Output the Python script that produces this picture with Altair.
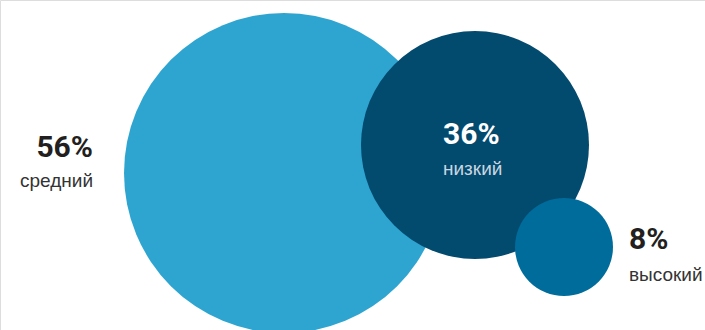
import altair as alt
import pandas as pd

# Data
categories = ["средний", "низкий", "высокий"]
shares = [56, 36, 8]
pct_labels = ["56%", "36%", "8%"]

# Layout of the bubbles (layout units = pixels of the 705x330 canvas)
center_x = [284, 475, 564]
center_y = [173, 145, 247]
label_x = [93, 443, 629]
pct_y = [157, 144, 249]
name_y = [187, 175, 281]

palette = ["#2EA5D0", "#024A6E", "#006C9B"]
pct_colors = ["#231F20", "#FFFFFF", "#231F20"]
name_colors = ["#333333", "#C9D6E0", "#333333"]

df = pd.DataFrame({
    "category": categories,
    "share": shares,
    "pct": pct_labels,
    "cx": center_x,
    "cy": center_y,
    "lx": label_x,
    "py": pct_y,
    "ny": name_y,
})

W, H = 705, 330
xs = alt.Scale(domain=[0, W], range=[0, W])
ys = alt.Scale(domain=[0, H], range=[0, H])

base = alt.Chart(df)

bubbles = base.mark_point(filled=True, opacity=1, strokeWidth=0, shape="circle").encode(
    x=alt.X("cx:Q", scale=xs, axis=None),
    y=alt.Y("cy:Q", scale=ys, axis=None),
    size=alt.Size("share:Q", scale=alt.Scale(domain=[8, 36, 56], range=[9604, 51984, 102400]), legend=None),
    color=alt.Color("category:N", scale=alt.Scale(domain=categories, range=palette), legend=None),
    order=alt.Order("share:Q", sort="descending"),
)

pct_font = "Roboto"
name_font = "Liberation Sans"

def text_layers(align, cats):
    f = alt.FieldOneOfPredicate(field="category", oneOf=cats)
    p = base.transform_filter(f).mark_text(
        align=align, baseline="alphabetic", font=pct_font, fontSize=30, fontWeight="bold"
    ).encode(
        x=alt.X("lx:Q", scale=xs, axis=None),
        y=alt.Y("py:Q", scale=ys, axis=None),
        text="pct:N",
        color=alt.Color("category:N", scale=alt.Scale(domain=categories, range=pct_colors), legend=None),
    )
    n = base.transform_filter(f).mark_text(
        align=align, baseline="alphabetic", font=name_font, fontSize=19
    ).encode(
        x=alt.X("lx:Q", scale=xs, axis=None),
        y=alt.Y("ny:Q", scale=ys, axis=None),
        text="category:N",
        color=alt.Color("category:N", scale=alt.Scale(domain=categories, range=name_colors), legend=None),
    )
    return [p, n]

layers = [bubbles] + text_layers("right", ["средний"]) + text_layers("left", ["низкий", "высокий"])

chart = alt.layer(*layers).resolve_scale(color="independent").properties(
    width=W, height=H, padding=0, autosize=alt.AutoSizeParams(type="none")
).configure_view(stroke=None).configure(background="white")

chart.save("out.html", embed_options={"renderer": "svg", "actions": False})
